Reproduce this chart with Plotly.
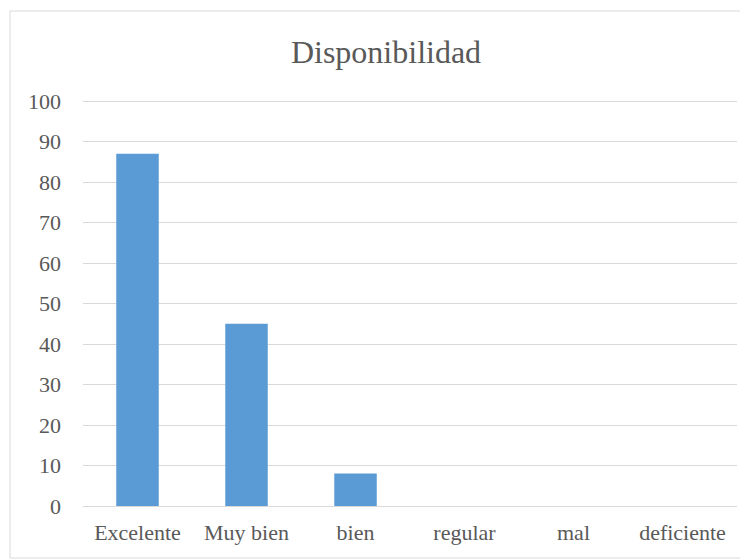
import plotly.graph_objects as go

categories = ["Excelente", "Muy bien", "bien", "regular", "mal", "deficiente"]
values = [87, 45, 8, 0, 0, 0]
y_ticks = [0, 10, 20, 30, 40, 50, 60, 70, 80, 90, 100]

# page body has an 8px default margin; lay out in page coordinates then shift
OFF = 8
PW, PH = 748, 559
W, H = PW - OFF, PH - OFF
Y_TOP = 100.5
px_per_unit = (506 - 101) / 100.0
L = 83 - OFF
R = PW - 737
B = PH - 506
T = int(round(101 - (Y_TOP - 100) * px_per_unit)) - OFF
pw, ph = W - L - R, H - T - B

def fy(page_y):
    # page y pixel -> paper y fraction
    return (H - B - (page_y - OFF)) / ph

def fx(page_x):
    return (page_x - OFF - L) / pw

fig = go.Figure(go.Bar(x=categories, y=values, marker=dict(color="#5B9BD5", line=dict(width=0))))

fig.update_layout(
    width=W, height=H,
    margin=dict(l=L, r=R, t=T, b=B, pad=0),
    paper_bgcolor="white", plot_bgcolor="white",
    bargap=0.61,
    showlegend=False,
    font=dict(family="Liberation Serif, Times New Roman, serif", color="#595959", size=22),
    title=dict(text="Disponibilidad", x=(386 - OFF) / W, xref="container", xanchor="center",
               y=1 - (52 - OFF) / H, yref="container", yanchor="middle",
               font=dict(size=32, color="#595959", family="Liberation Serif, Times New Roman, serif")),
    xaxis=dict(showgrid=False, showline=False, ticks="", zeroline=False,
               tickfont=dict(size=22, color="#595959"), ticklabelstandoff=11),
    yaxis=dict(range=[0, Y_TOP], tickvals=y_ticks, showgrid=True, gridcolor="#D9D9D9", gridwidth=1,
               zeroline=True, zerolinecolor="#D9D9D9", zerolinewidth=1, showline=False, ticks="",
               tickfont=dict(size=22, color="#595959"), ticklabelstandoff=21),
    shapes=[dict(type="rect", xref="paper", yref="paper",
                 x0=fx(10), x1=fx(747), y0=fy(558), y1=fy(11),
                 line=dict(color="#D9D9D9", width=1), fillcolor="rgba(0,0,0,0)", layer="below")],
)

fig.write_html("out.html")
